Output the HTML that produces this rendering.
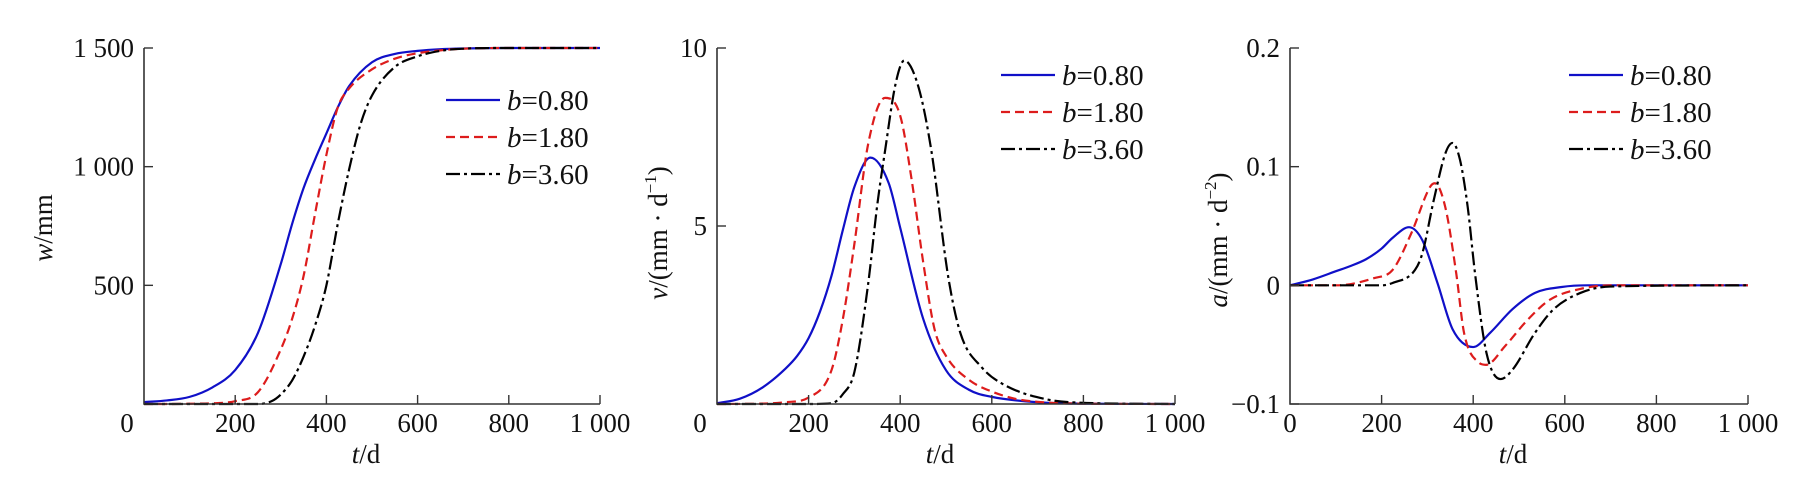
<!DOCTYPE html>
<html><head><meta charset="utf-8"><style>
html,body{margin:0;padding:0;background:#fff;}
svg{display:block;font-family:"Liberation Serif","DejaVu Serif",serif;}
</style></head><body>
<svg id="fig" width="1805" height="495" viewBox="0 0 1805 495" xmlns="http://www.w3.org/2000/svg"></svg>
<script>
// ---------- data ----------
const wBlueT=[0,50,100,150,200,250,300,325,350,375,400,425,450,500,550,600,650,700,800,900,1000];
const wBlueV=[8,15,30,70,143,300,590,760,910,1030,1140,1250,1340,1440,1475,1488,1495,1498,1500,1500,1500];
const wRedT=[0,50,100,150,200,250,300,325,350,375,400,425,450,500,550,600,650,700,800,900,1000];
const wRedV=[0,0,1,3,12,50,230,360,540,800,1050,1250,1330,1410,1455,1478,1490,1497,1500,1500,1500];
const wBlackT=[0,100,200,250,280,300,325,350,375,400,425,450,475,500,550,600,650,700,800,900,1000];
const wBlackV=[0,0,0,0,12,40,100,200,330,500,760,990,1180,1300,1420,1465,1488,1497,1500,1500,1500];

const vBlueT=[0,50,100,150,175,200,225,250,275,300,335,375,400,450,500,550,600,700,800,1000];
const vBlueV=[0.02,0.15,0.47,1.0,1.35,1.85,2.6,3.6,4.9,6.1,6.92,6.2,4.95,2.4,0.95,0.4,0.2,0.05,0.01,0];
const vRedT=[0,100,150,200,250,275,300,330,367,400,425,450,475,500,550,600,650,700,800,1000];
const vRedV=[0,0.01,0.05,0.18,0.95,2.4,4.5,7.3,8.6,8.1,6.3,4.0,2.1,1.35,0.68,0.35,0.15,0.06,0.01,0];
const vBlackT=[0,200,250,275,300,330,350,367,390,409,440,468,505,532,578,624,716,807,1000];
const vBlackV=[0,0,0.02,0.28,0.9,3.37,5.6,7.12,9.0,9.65,8.9,7.12,3.56,1.97,1.03,0.56,0.14,0.03,0];

const aBlueT=[0,50,101,130,166,200,224,260,289,322,355,400,437,486,535,593,650,1000];
const aBlueV=[0,0.005,0.012,0.016,0.022,0.031,0.040,0.049,0.038,0.002,-0.037,-0.052,-0.040,-0.020,-0.0064,-0.0014,0,0];
const aRedT=[0,101,183,224,265,306,316,339,363,380,412,428,470,519,568,634,700,1000];
const aRedV=[0,0,0.006,0.013,0.044,0.083,0.086,0.066,0.010,-0.040,-0.065,-0.067,-0.051,-0.029,-0.012,-0.003,0,0];
const aBlackT=[0,200,224,273,289,314,340,355,371,388,404,429,460,486,535,576,634,699,1000];
const aBlackV=[0,0,0.002,0.013,0.027,0.072,0.112,0.12,0.106,0.066,0.010,-0.057,-0.079,-0.071,-0.040,-0.020,-0.0064,-0.001,0];

const xTicks=[0,200,400,600,800,1000];
const xTickLabels=["0","200","400","600","800","1 000"];
const wTicks=[500,1000,1500];
const wTickLabels=["500","1 000","1 500"];
const vTicks=[5,10];
const vTickLabels=["5","10"];
const aTicks=[-0.1,0,0.1,0.2];
const aTickLabels=["\u22120.1","0","0.1","0.2"];
const legendLabels=["0.80","1.80","3.60"];

// ---------- helpers ----------
const NS="http://www.w3.org/2000/svg";
const svg=document.getElementById('fig');
function mk(tag,attrs,parent){const e=document.createElementNS(NS,tag);for(const k in attrs)e.setAttribute(k,attrs[k]);(parent||svg).appendChild(e);return e;}
function monotonePath(xs,ys){
  const n=xs.length;const d=[],m=new Array(n);
  for(let i=0;i<n-1;i++)d.push((ys[i+1]-ys[i])/(xs[i+1]-xs[i]));
  m[0]=d[0];m[n-1]=d[n-2];
  for(let i=1;i<n-1;i++){m[i]=(d[i-1]*d[i]<=0)?0:(d[i-1]+d[i])/2;}
  for(let i=0;i<n-1;i++){if(d[i]===0){m[i]=0;m[i+1]=0;continue;}const a=m[i]/d[i],b=m[i+1]/d[i],s=a*a+b*b;if(s>9){const t=3/Math.sqrt(s);m[i]=t*a*d[i];m[i+1]=t*b*d[i];}}
  let p="M"+xs[0].toFixed(2)+","+ys[0].toFixed(2);
  for(let i=0;i<n-1;i++){const h=(xs[i+1]-xs[i])/3;p+=" C"+(xs[i]+h).toFixed(2)+","+(ys[i]+m[i]*h).toFixed(2)+" "+(xs[i+1]-h).toFixed(2)+","+(ys[i+1]-m[i+1]*h).toFixed(2)+" "+xs[i+1].toFixed(2)+","+ys[i+1].toFixed(2);}
  return p;
}
const styles=[
  {stroke:"#1010c8",dash:"none",name:"b-0-80"},
  {stroke:"#dd1c1c",dash:"9 5",name:"b-1-80"},
  {stroke:"#000",dash:"14 4 3 4",name:"b-3-60"}
];
const FS=27;

function panel(cfg){
  const g=mk('g',{});
  
  
  const X=t=>cfg.x0+(t-0)/1000*(cfg.x1-cfg.x0);
  const Y=v=>cfg.yb-(v-cfg.ymin)/(cfg.ymax-cfg.ymin)*(cfg.yb-cfg.yt);
  cfg.series.forEach((s,i)=>{
    const xs=s[0].map(X),ys=s[1].map(Y);
    const p=mk('path',{d:monotonePath(xs,ys),fill:"none",stroke:styles[i].stroke,"stroke-width":2.2,"stroke-dasharray":styles[i].dash},g);
    
    
  });
  const ax=mk('path',{d:`M${cfg.x0},${Y(cfg.ymax)} V${cfg.yb} H${cfg.x1}`,fill:"none",stroke:"#333","stroke-width":1.6},g);
  
  
  xTicks.forEach((t,i)=>{
    if(t>0) mk('line',{x1:X(t),x2:X(t),y1:cfg.yb,y2:cfg.yb-9,stroke:"#333","stroke-width":1.4},g);
    const tx=mk('text',{x:X(t)+(t===0?cfg.zeroShift:0),y:432,"font-size":FS,"text-anchor":"middle",fill:"#111"},g);
    tx.textContent=xTickLabels[i];
    
    
  });
  cfg.yTicks.forEach((v,i)=>{
    mk('line',{x1:cfg.x0,x2:cfg.x0+9,y1:Y(v),y2:Y(v),stroke:"#333","stroke-width":1.4},g);
    const tx=mk('text',{x:cfg.x0-10,y:Y(v)+9,"font-size":FS,"text-anchor":"end",fill:"#111"},g);
    tx.textContent=cfg.yTickLabels[i];
    
    
  });
  const xt=mk('text',{x:(cfg.x0+cfg.x1)/2-6,y:463,"font-size":FS,"text-anchor":"middle",fill:"#111"},g);
  xt.innerHTML='<tspan font-style="italic">t</tspan>/d';
  
  
  const yt=mk('text',{x:0,y:0,"font-size":FS,"text-anchor":"middle",fill:"#111",transform:`translate(${cfg.ytx},${cfg.yty}) rotate(-90)`},g);
  yt.innerHTML=cfg.ytitle;
  
  
  const rows=[cfg.legY,cfg.legY+37,cfg.legY+74];
  legendLabels.forEach((lab,i)=>{
    const le=mk('g',{},g);
    
    
    mk('line',{x1:cfg.legX,x2:cfg.legX+54,y1:rows[i],y2:rows[i],stroke:styles[i].stroke,"stroke-width":2.2,"stroke-dasharray":styles[i].dash},le);
    const tx=mk('text',{x:cfg.legX+61,y:rows[i]+10,"font-size":29,fill:"#111"},le);
    tx.innerHTML='<tspan font-style="italic">b</tspan>='+lab;
  });
}

panel({name:"panel-displacement",x0:144,x1:600,yt:48,yb:404,ymin:0,ymax:1500,zeroShift:-17,
  yTicks:wTicks,yTickLabels:wTickLabels,
  series:[[wBlueT,wBlueV],[wRedT,wRedV],[wBlackT,wBlackV]],
  ytx:52,yty:228,ytitle:'<tspan font-style="italic">w</tspan>/mm',legX:446,legY:100});
panel({name:"panel-velocity",x0:717,x1:1175,yt:48,yb:404,ymin:0,ymax:10,zeroShift:-17,
  yTicks:vTicks,yTickLabels:vTickLabels,
  series:[[vBlueT,vBlueV],[vRedT,vRedV],[vBlackT,vBlackV]],
  ytx:667,yty:233,ytitle:'<tspan font-style="italic">v</tspan>/(mm · d<tspan font-size="17" dy="-11">−1</tspan><tspan dy="11">)</tspan>',legX:1001,legY:75});
panel({name:"panel-acceleration",x0:1290,x1:1748,yt:48,yb:404,ymin:-0.1,ymax:0.2,zeroShift:0,
  yTicks:aTicks,yTickLabels:aTickLabels,
  series:[[aBlueT,aBlueV],[aRedT,aRedV],[aBlackT,aBlackV]],
  ytx:1227,yty:240,ytitle:'<tspan font-style="italic">a</tspan>/(mm · d<tspan font-size="17" dy="-11">−2</tspan><tspan dy="11">)</tspan>',legX:1569,legY:75});
</script>
</body></html>
